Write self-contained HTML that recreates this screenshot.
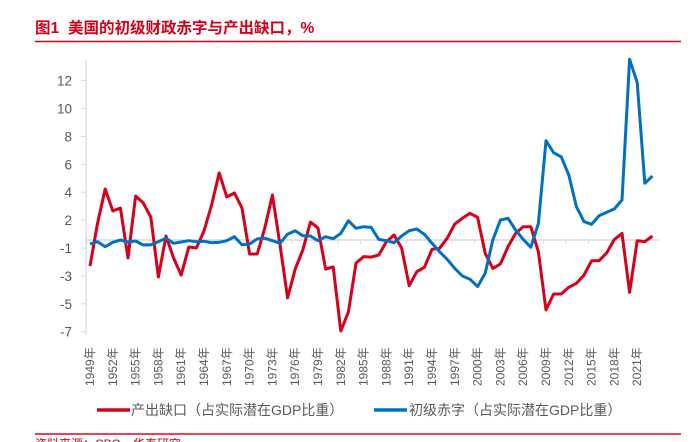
<!DOCTYPE html>
<html><head><meta charset="utf-8"><style>
body{margin:0;background:#fff;width:692px;height:442px;overflow:hidden;font-family:"Liberation Sans","Noto Sans CJK SC",sans-serif;}
</style></head><body>
<svg width="692" height="442" style="position:absolute;left:0;top:0">
<text x="35" y="33" font-size="15.5" font-weight="bold" fill="#d7001b" font-family="Liberation Sans,Noto Sans CJK SC,sans-serif">图1</text>
<text x="68" y="33" font-size="15.5" font-weight="bold" fill="#d7001b" font-family="Liberation Sans,Noto Sans CJK SC,sans-serif">美国的初级财政赤字与产出缺口，%</text>
<line x1="35" y1="41.5" x2="681" y2="41.5" stroke="#d7001b" stroke-width="1.5"/>
<line x1="35" y1="434" x2="681" y2="434" stroke="#e8001f" stroke-width="1.5"/>
<text x="35" y="448" font-size="12" fill="#d7001b">资料来源：CBO，华泰研究</text>
<g id="axes"></g><g id="series"></g>
<g>
<line x1="97" y1="410" x2="130" y2="410" stroke="#d7001b" stroke-width="3.5"/>
<text x="131" y="415" font-size="14" fill="#595959">产出缺口（占实际潜在GDP比重）</text>
<line x1="374" y1="410" x2="407" y2="410" stroke="#0070c0" stroke-width="3.5"/>
<text x="409" y="415" font-size="14" fill="#595959">初级赤字（占实际潜在GDP比重）</text>
</g>
</svg>
<script>
const startYear = 1949;
const outputGap = [-2.29,0.79,3.23,1.65,1.87,-1.72,2.73,2.23,1.22,-3.08,-0.14,-1.72,-2.94,-0.93,-1.0,0.22,2.08,4.38,2.66,2.94,1.87,-1.43,-1.43,0.43,2.8,-0.78,-4.58,-2.51,-1.14,0.86,0.43,-2.51,-2.36,-6.95,-5.59,-2.08,-1.62,-1.65,-1.5,-0.55,-0.07,-1.0,-3.7,-2.7,-2.38,-1.09,-1.02,-0.3,0.72,1.13,1.49,1.2,-1.38,-2.46,-2.15,-0.91,0.05,0.53,0.53,-1.27,-5.44,-4.3,-4.3,-3.82,-3.53,-2.94,-1.91,-1.91,-1.34,-0.38,0.05,-4.18,-0.48,-0.55,-0.14];
const primaryDeficit = [-0.71,-0.55,-0.91,-0.59,-0.43,-0.57,-0.5,-0.78,-0.78,-0.55,-0.3,-0.66,-0.57,-0.48,-0.55,-0.52,-0.62,-0.59,-0.48,-0.19,-0.78,-0.71,-0.35,-0.3,-0.48,-0.66,0.0,0.24,-0.12,-0.14,-0.48,-0.19,-0.33,0.05,0.96,0.41,0.53,0.48,-0.38,-0.48,-0.62,-0.14,0.24,0.36,-0.02,-0.66,-1.27,-1.81,-2.46,-3.01,-3.24,-3.77,-2.81,-0.43,1.01,1.13,0.29,-0.38,-0.95,0.77,6.69,5.83,5.54,4.23,1.96,0.89,0.7,1.32,1.56,1.8,2.44,12.53,10.86,3.64,4.16];
const tickValues = [11,9,7,5,3,1,-1,-3,-5,-7];
const tickLabels = ['12','10','8','6','4','2','-1','-3','-5','-7'];
const axisCross = -0.43;

const NS='http://www.w3.org/2000/svg';
function X(i){return 90+i*7.6;}
function Y(v){return 248-(v+1)*13.95;}
const axes=document.getElementById('axes'), ser=document.getElementById('series');
function mk(tag,attrs,parent){const e=document.createElementNS(NS,tag);for(const k in attrs)e.setAttribute(k,attrs[k]);parent.appendChild(e);return e;}
let yl=mk('line',{x1:86,y1:60,x2:86,y2:Y(-7)+3,stroke:'#d9d9d9','stroke-width':1.2},axes);


tickValues.forEach((v,k)=>{
  const t=mk('line',{x1:81,y1:Y(v),x2:86,y2:Y(v),stroke:'#d9d9d9'},axes);
  
  
  const tx=mk('text',{x:72,y:Y(v)+5,'font-size':13.5,fill:'#595959','text-anchor':'end'},axes);
  tx.textContent=tickLabels[k];
  
  
});
const n=outputGap.length;
let xl=mk('line',{x1:86,y1:Y(axisCross),x2:X(n-1)+7,y2:Y(axisCross),stroke:'#d9d9d9','stroke-width':1.5},axes);


for(let i=0;i<n;i+=3){
  const xx=X(i)-3;
  const t=mk('line',{x1:xx,y1:Y(axisCross),x2:xx,y2:Y(axisCross)+4,stroke:'#d9d9d9'},axes);
  
  
  const lx=X(i)+4, ly=386;
  const tx=mk('text',{x:lx,y:ly,'font-size':12,fill:'#595959',transform:`rotate(-90 ${lx} ${ly})`},axes);
  tx.textContent=(startYear+i)+'年';
  
  
}
function path(arr,color,name){
  const d=arr.map((v,i)=>(i?'L':'M')+X(i).toFixed(1)+' '+Y(v).toFixed(1)).join(' ');
  const p=mk('path',{d:d,fill:'none',stroke:color,'stroke-width':3,'stroke-linejoin':'round'},ser);
  
  
}
path(outputGap,'#d7001b','output-gap-line');
path(primaryDeficit,'#0070c0','primary-deficit-line');
</script>
</body></html>
